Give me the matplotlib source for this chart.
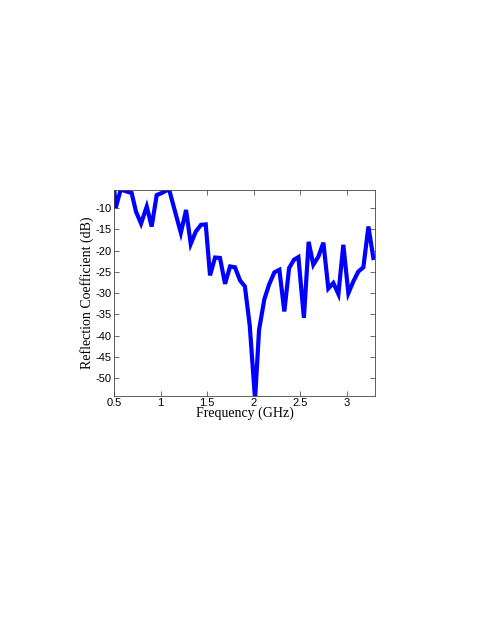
import numpy as np
import matplotlib
matplotlib.use("Agg")
import matplotlib.pyplot as plt

plt.rcParams['axes.unicode_minus'] = False

freq_ghz = [0.500, 0.518, 0.572, 0.628, 0.689, 0.736, 0.790, 0.851, 0.904, 0.958,
            1.022, 1.090, 1.217, 1.273, 1.323, 1.377, 1.433, 1.484, 1.530, 1.584,
            1.637, 1.691, 1.745, 1.798, 1.852, 1.904, 1.956, 2.013, 2.056, 2.113,
            2.163, 2.220, 2.274, 2.327, 2.378, 2.431, 2.478, 2.537, 2.588, 2.638,
            2.692, 2.746, 2.799, 2.853, 2.907, 2.960, 3.014, 3.068, 3.121, 3.175,
            3.229, 3.282, 3.300]
s11_db = [-5.0, -9.9, -5.6, -6.0, -6.4, -10.8, -13.6, -9.6, -14.3, -6.9,
          -6.3, -5.5, -15.8, -10.4, -18.4, -15.5, -13.9, -13.8, -25.8, -21.6,
          -21.7, -27.8, -23.7, -23.9, -27.0, -28.4, -37.6, -55.0, -38.6, -31.4,
          -28.0, -25.1, -24.5, -34.3, -24.1, -22.1, -21.5, -35.8, -17.9, -23.3,
          -21.4, -18.1, -28.9, -27.6, -30.2, -18.6, -30.0, -27.2, -24.9, -23.9,
          -14.3, -21.7, -21.6]

x_ticks = [0.5, 1, 1.5, 2, 2.5, 3]
x_labels = ['0.5', '1', '1.5', '2', '2.5', '3']
y_ticks = [-50, -45, -40, -35, -30, -25, -20, -15, -10]
y_labels = ['-50', '-45', '-40', '-35', '-30', '-25', '-20', '-15', '-10']

fig = plt.figure(figsize=(4.91, 6.35), dpi=100)
ax = fig.add_axes([0.2322, 0.3764, 0.5316, 0.3244])
ax.plot(freq_ghz, s11_db, color='#0000ff', linewidth=3.0, solid_joinstyle='miter')

ax.set_xlim(0.5, 3.3)
ax.set_ylim(-54.2, -5.7)
ax.set_xticks(x_ticks)
ax.set_xticklabels(x_labels)
ax.set_yticks(y_ticks)
ax.set_yticklabels(y_labels)
ax.tick_params(direction='in', length=3.5, width=0.6, top=True, right=True,
               labelsize=8, pad=1.5, color='#555555')
for lab in ax.get_xticklabels() + ax.get_yticklabels():
    lab.set_family('Liberation Sans')
for sp in ax.spines.values():
    sp.set_linewidth(0.6)
    sp.set_color('#444444')

ax.set_xlabel('Frequency (GHz)', family='Liberation Serif', fontsize=10, labelpad=-1)
ax.set_ylabel('Reflection Coefficient (dB)', family='Liberation Serif', fontsize=10, labelpad=1)

fig.savefig('out.png', dpi=100)
